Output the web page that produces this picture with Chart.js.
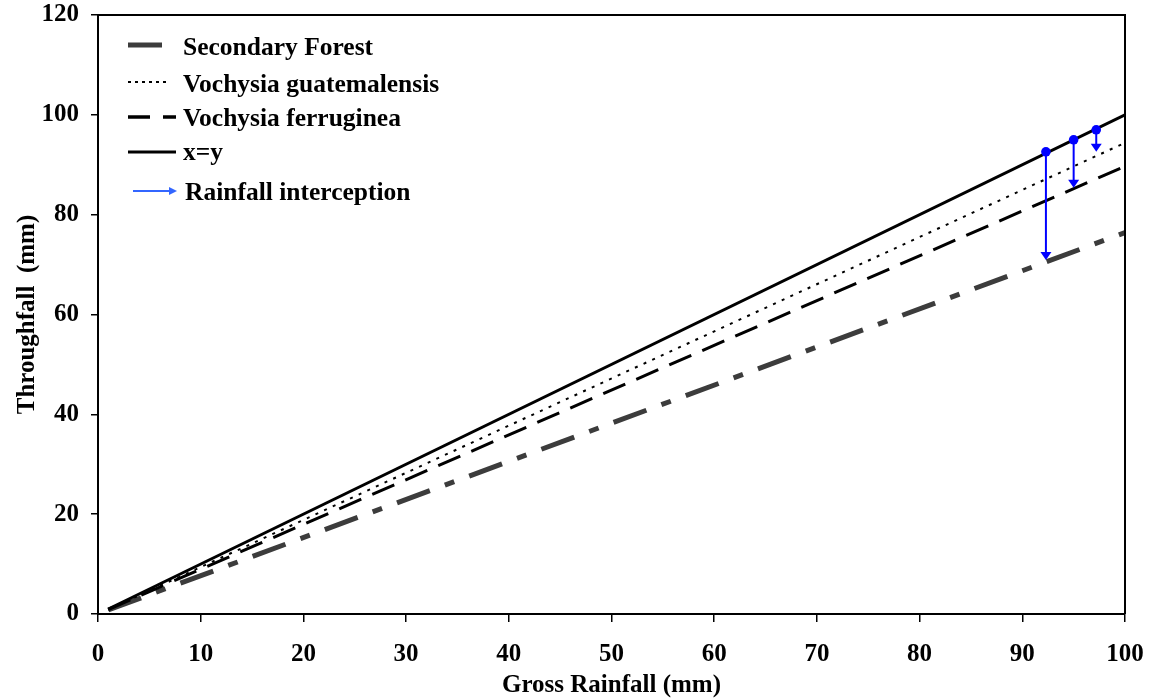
<!DOCTYPE html>
<html>
<head>
<meta charset="utf-8">
<script src="https://cdn.jsdelivr.net/npm/chart.js@4.4.0/dist/chart.umd.min.js"></script>
<style>
  html, body { margin: 0; padding: 0; background: #fff; }
  #wrap { width: 1149px; height: 698px; }
</style>
</head>
<body>
<div id="wrap"><canvas id="grafica" width="1149" height="698"></canvas></div>
<script>
// rainfall amounts (x) and throughfall for each cover (y), ends of the fitted lines
const grossRain = [1, 100];
const secondaryForest = [0.8, 76.4];
const vochysiaGuatemalensis = [0.9, 94.4];
const vochysiaFerruginea = [0.9, 89.7];
const oneToOne = [1, 100];

// interception arrows: from x=y down to the stand's line
const interceptX = [92.3, 95.0, 97.2];
const interceptTop = [92.6, 95.0, 97.0];
const interceptBottom = [70.9, 85.4, 92.6];

const xTicks = [0, 10, 20, 30, 40, 50, 60, 70, 80, 90, 100];
const yTicks = [0, 20, 40, 60, 80, 100, 120];

const FONT = "'Liberation Serif', 'Times New Roman', serif";
const BLUE = "#0000ff";

function pts(ys) {
  return grossRain.map((x, i) => ({ x: x, y: ys[i] }));
}

function arrowHead(ctx, x, y, w, h, color) {
  ctx.fillStyle = color;
  ctx.beginPath();
  ctx.moveTo(x, y);
  ctx.lineTo(x - w / 2, y - h);
  ctx.lineTo(x + w / 2, y - h);
  ctx.closePath();
  ctx.fill();
}

// arrows drawn through the chart scales
const interceptPlugin = {
  id: "intercept",
  afterDatasetsDraw(chart) {
    const { ctx, scales } = chart;
    ctx.save();
    interceptX.forEach((xv, i) => {
      const px = scales.x.getPixelForValue(xv);
      const top = scales.y.getPixelForValue(interceptTop[i]);
      const bot = scales.y.getPixelForValue(interceptBottom[i]);
      ctx.strokeStyle = BLUE;
      ctx.lineWidth = 2;
      ctx.beginPath();
      ctx.moveTo(px, top);
      ctx.lineTo(px, bot - 6);
      ctx.stroke();
      arrowHead(ctx, px, bot, 11, 8, BLUE);
      ctx.fillStyle = BLUE;
      ctx.beginPath();
      ctx.arc(px, top, 4.8, 0, Math.PI * 2);
      ctx.fill();
    });
    ctx.restore();
  }
};

// box round the plot + hand-made legend
const framePlugin = {
  id: "frame",
  afterDraw(chart) {
    const { ctx, chartArea: a } = chart;
    ctx.save();
    ctx.strokeStyle = "#000";
    ctx.lineWidth = 2;
    ctx.beginPath();
    ctx.moveTo(a.left, a.top);
    ctx.lineTo(a.right, a.top);
    ctx.lineTo(a.right, a.bottom);
    ctx.stroke();

    const rows = [
      { label: "Secondary Forest", base: 55, draw: () => {
        ctx.strokeStyle = "#3c3c3c"; ctx.lineWidth = 5; ctx.setLineDash([]);
        ctx.beginPath(); ctx.moveTo(128, 45); ctx.lineTo(162, 45); ctx.stroke();
      }},
      { label: "Vochysia guatemalensis", base: 92, draw: () => {
        ctx.strokeStyle = "#000"; ctx.lineWidth = 2; ctx.setLineDash([3, 4]);
        ctx.beginPath(); ctx.moveTo(128, 82); ctx.lineTo(169, 82); ctx.stroke();
      }},
      { label: "Vochysia ferruginea", base: 126, draw: () => {
        ctx.strokeStyle = "#000"; ctx.lineWidth = 3.5; ctx.setLineDash([22, 13]);
        ctx.beginPath(); ctx.moveTo(128, 117); ctx.lineTo(176, 117); ctx.stroke();
      }},
      { label: "x=y", base: 160, draw: () => {
        ctx.strokeStyle = "#000"; ctx.lineWidth = 3; ctx.setLineDash([]);
        ctx.beginPath(); ctx.moveTo(128, 152); ctx.lineTo(176, 152); ctx.stroke();
      }},
      { label: "Rainfall interception", base: 200, draw: () => {
        ctx.strokeStyle = "#3366ff"; ctx.lineWidth = 2; ctx.setLineDash([]);
        ctx.beginPath(); ctx.moveTo(133, 191); ctx.lineTo(170, 191); ctx.stroke();
        ctx.fillStyle = "#3366ff";
        ctx.beginPath(); ctx.moveTo(177, 191); ctx.lineTo(169, 187); ctx.lineTo(169, 195); ctx.closePath(); ctx.fill();
      }}
    ];
    ctx.font = "bold 25.5px " + FONT;
    ctx.textBaseline = "alphabetic";
    ctx.textAlign = "left";
    rows.forEach(r => {
      r.draw();
      ctx.setLineDash([]);
      ctx.fillStyle = "#000";
      ctx.fillText(r.label, r.label === "Rainfall interception" ? 185 : 183, r.base);
    });
    ctx.restore();
  }
};

const tickFont = { family: FONT, size: 25, weight: "bold" };
const titleFont = { family: FONT, size: 25, weight: "bold", lineHeight: 1 };

new Chart(document.getElementById("grafica"), {
  type: "scatter",
  data: {
    datasets: [
      { label: "x=y", data: pts(oneToOne), showLine: true, borderColor: "#000",
        borderWidth: 3, pointRadius: 0 },
      { label: "Vochysia guatemalensis", data: pts(vochysiaGuatemalensis), showLine: true,
        borderColor: "#000", borderWidth: 2, borderDash: [3, 6.5], pointRadius: 0 },
      { label: "Vochysia ferruginea", data: pts(vochysiaFerruginea), showLine: true,
        borderColor: "#000", borderWidth: 3, borderDash: [24, 12], pointRadius: 0 },
      { label: "Secondary Forest", data: pts(secondaryForest), showLine: true,
        borderColor: "#3c3c3c", borderWidth: 5, borderDash: [35, 16, 10, 16], pointRadius: 0 }
    ]
  },
  options: {
    responsive: false,
    animation: false,
    layout: { padding: { left: 0, right: 24, top: 15, bottom: 0 } },
    plugins: { legend: { display: false }, tooltip: { enabled: false } },
    scales: {
      x: {
        type: "linear", min: 0, max: 100,
        afterBuildTicks: s => { s.ticks = xTicks.map(v => ({ value: v })); },
        afterFit: s => { s.height = 84; s.paddingLeft = 0; s.paddingRight = 0; },
        ticks: { font: tickFont, color: "#000", padding: 18, maxRotation: 0 },
        grid: { drawOnChartArea: false, color: "#000", lineWidth: 1.5, tickLength: 8 },
        border: { color: "#000", width: 2 },
        title: { display: true, text: "Gross Rainfall (mm)", font: titleFont, color: "#000",
                 padding: { top: 0, bottom: 0 } }
      },
      y: {
        type: "linear", min: 0, max: 120,
        afterBuildTicks: s => { s.ticks = yTicks.map(v => ({ value: v })); },
        afterFit: s => { s.width = 98; s.paddingTop = 0; s.paddingBottom = 0; },
        ticks: { font: tickFont, color: "#000", padding: 12 },
        grid: { drawOnChartArea: false, color: "#000", lineWidth: 1.5, tickLength: 7 },
        border: { color: "#000", width: 2 },
        title: { display: true, text: "Throughfall  (mm)", font: titleFont, color: "#000",
                 padding: { top: 15, bottom: 0 } }
      }
    }
  },
  plugins: [interceptPlugin, framePlugin]
});
</script>
</body>
</html>
